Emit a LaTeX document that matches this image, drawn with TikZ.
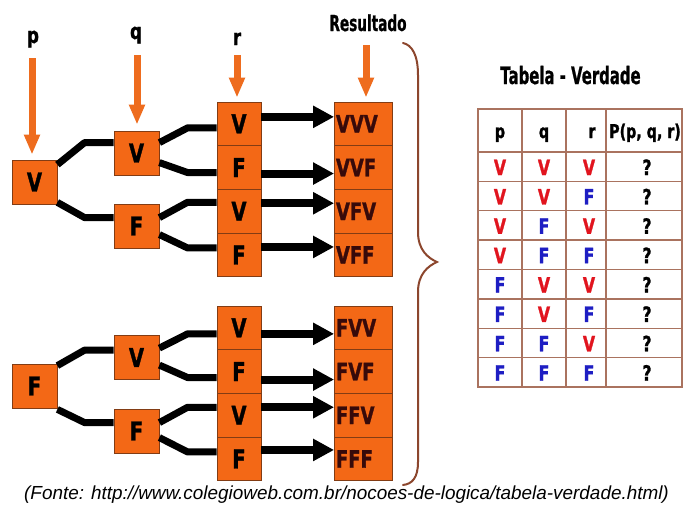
\documentclass[tikz,border=0pt]{standalone}
\usepackage{fontspec}
\setmainfont{DejaVu Sans}
\newfontfamily\boxfont{DejaVu Sans}[FakeStretch=0.75, BoldFeatures={FakeBold=1.2}]
\newfontfamily\titlefont{DejaVu Sans}[FakeStretch=0.62, BoldFeatures={FakeBold=0.8}]
\newfontfamily\sourcefont{Liberation Sans}
\usetikzlibrary{arrows.meta,calc}

\definecolor{boxorange}{RGB}{243,104,22}
\definecolor{arroworange}{RGB}{238,108,30}
\definecolor{boxedge}{RGB}{130,60,20}
\definecolor{bracebrown}{RGB}{140,70,45}
\definecolor{gridbrown}{RGB}{170,115,95}
\definecolor{colV}{RGB}{225,20,30}
\definecolor{colF}{RGB}{30,30,195}
\definecolor{resultink}{RGB}{55,10,10}

\begin{document}
\begin{tikzpicture}[x=1pt,y=-1pt,
  cell/.style={draw=boxedge, line width=0.8pt, fill=boxorange, inner sep=0pt,
    font=\boxfont\bfseries\fontsize{26}{26}\selectfont},
  treebox/.style={cell, minimum width=45pt, minimum height=44pt},
  rcell/.style={cell, minimum width=44pt, minimum height=43.7pt},
  rescell/.style={cell, minimum width=58pt, minimum height=43.7pt, text width=55pt,
    align=left, inner xsep=1.5pt, text=resultink,
    font=\boxfont\bfseries\fontsize{24}{24}\selectfont},
  varlabel/.style={anchor=base, font=\boxfont\bfseries\fontsize{22}{22}\selectfont},
  titletext/.style={anchor=base, font=\titlefont\bfseries\fontsize{24}{24}\selectfont},
  link/.style={line width=7pt, line join=round},
  resarrow/.style={line width=8pt, -{Triangle[width=21pt,length=21pt]}},
  orangearrow/.style={draw=arroworange, line width=7pt, -{Triangle[width=15pt,length=20pt]}},
  brace/.style={draw=bracebrown, line width=2pt, line cap=round},
  gridline/.style={draw=gridbrown, line width=1.3pt},
  tabhead/.style={anchor=base, font=\boxfont\bfseries\fontsize{19}{19}\selectfont},
  tabval/.style={anchor=base, font=\boxfont\bfseries\fontsize{21}{21}\selectfont}
]
\fill[white] (0,0) rectangle (683,506);
\useasboundingbox (0,0) rectangle (683,506);

% variable labels and result heading
\node[varlabel] (plabel) at (33,43) {p};
\node[varlabel] (qlabel) at (136,39) {q};
\node[varlabel] (rlabel) at (237,45) {r};
\node[titletext, font=\titlefont\bfseries\fontsize{22}{22}\selectfont] (reslabel) at (368,31) {Resultado};

% tree boxes
\node[treebox] (root1) at (34.5,182) {V};
\node[treebox] (qv1) at (136.5,153) {V};
\node[treebox] (qf1) at (136.5,226) {F};
\node[treebox] (root2) at (34.5,386) {F};
\node[treebox] (qv2) at (136.5,357.5) {V};
\node[treebox] (qf2) at (136.5,431) {F};

% r column and result column
\foreach \i/\y/\v/\res in {1/123.85/V/VVV, 2/167.55/F/VVF, 3/211.25/V/VFV, 4/254.95/F/VFF,
                           5/327.85/V/FVV, 6/371.55/F/FVF, 7/415.25/V/FFV, 8/458.95/F/FFF} {
  \node[rcell] (r\i) at (239,\y) {\v};
  \node[rescell] (s\i) at (363.5,\y) {\res};
}

% orange arrows pointing at each column
\coordinate (pstart) at (32,58);
\coordinate (qstart) at (137,55);
\coordinate (rstart) at (237,55);
\coordinate (sstart) at (366,45);
\draw[orangearrow] (pstart) -- ($(pstart |- root1.north)+(0,-5)$);
\draw[orangearrow] (qstart) -- ($(qstart |- qv1.north)+(0,-6)$);
\draw[orangearrow] (rstart) -- ($(rstart |- r1.north)+(0,-4)$);
\draw[orangearrow] (sstart) -- ($(sstart |- s1.north)+(0,-4)$);

% branches, first half
\draw[link] ($(root1.north east)+(0,5)$) -- ($(qv1.north west)+(-29,12)$) -- ($(qv1.north west)+(0,12)$);
\draw[link] ($(root1.south east)+(0,-2)$) -- ($(qf1.north west)+(-29,14)$) -- ($(qf1.north west)+(0,14)$);
\draw[link] ($(qv1.north east)+(0,12)$) -- ($(r1.west)+(-29,4)$) -- ($(r1.west)+(0,4)$);
\draw[link] ($(qv1.north east)+(0,32)$) -- ($(r2.west)+(-29,5)$) -- ($(r2.west)+(0,5)$);
\draw[link] ($(qf1.north east)+(0,14)$) -- ($(r3.west)+(-29,-9)$) -- ($(r3.west)+(0,-9)$);
\draw[link] ($(qf1.north east)+(0,31)$) -- ($(r4.west)+(-29,-7)$) -- ($(r4.west)+(0,-7)$);

% branches, second half
\draw[link] ($(root2.north east)+(0,2)$) -- ($(qv2.north west)+(-29,15)$) -- ($(qv2.north west)+(0,15)$);
\draw[link] ($(root2.south east)+(0,1)$) -- ($(qf2.north west)+(-29,14)$) -- ($(qf2.north west)+(0,14)$);
\draw[link] ($(qv2.north east)+(0,13)$) -- ($(r5.west)+(-29,6)$) -- ($(r5.west)+(0,6)$);
\draw[link] ($(qv2.north east)+(0,30)$) -- ($(r6.west)+(-29,6)$) -- ($(r6.west)+(0,6)$);
\draw[link] ($(qf2.north east)+(0,14)$) -- ($(r7.west)+(-29,-8)$) -- ($(r7.west)+(0,-8)$);
\draw[link] ($(qf2.north east)+(0,29)$) -- ($(r8.west)+(-29,-7)$) -- ($(r8.west)+(0,-7)$);

% arrows into the results
\foreach \i/\d in {1/-7, 2/6, 3/-8, 4/-8, 5/6, 6/8, 7/-8, 8/-9} {
  \draw[resarrow] ($(r\i.east)+(0,\d)$) -- ($(s\i.west)+(0,\d)$);
}

% brace grouping all results
\draw[brace] (403,43) .. controls (412,45) and (418,55) .. (418,75) -- (418,232)
  .. controls (418,250) and (428,258) .. (437,262)
  .. controls (428,266) and (418,274) .. (418,292) -- (418,462)
  .. controls (418,478) and (412,484) .. (403,485);

% truth table
\node[titletext] (tabtitle) at (570.5,84) {Tabela - Verdade};
\draw[gridline] (478,109) rectangle (682,387);
\foreach \x in {522,566,606} \draw[gridline] (\x,109) -- (\x,387);
\draw[gridline] (478,152) -- (682,152);
\foreach \k in {1,...,7} \draw[gridline] (478,152+29.375*\k) -- (682,152+29.375*\k);

\node[tabhead] (hp) at (500,138) {p};
\node[tabhead] (hq) at (544,138) {q};
\node[tabhead] (hr) at (592,138) {r};
\node[tabhead] (hP) at (645,138) {P(p, q, r)};

\foreach \k/\a/\b/\c in {0/V/V/V, 1/V/V/F, 2/V/F/V, 3/V/F/F,
                         4/F/V/V, 5/F/V/F, 6/F/F/V, 7/F/F/F} {
  \pgfmathsetmacro{\yb}{175+29.375*\k}
  \node[tabval, text=col\a] (tp\k) at (500,\yb) {\a};
  \node[tabval, text=col\b] (tq\k) at (544,\yb) {\b};
  \node[tabval, text=col\c] (tr\k) at (589,\yb) {\c};
  \node[tabval] (tx\k) at (647,\yb) {?};
}

% source line
\node[anchor=base, font=\sourcefont\itshape\fontsize{18.9}{20}\selectfont] (source) at (346.5,499)
  {(Fonte: http://www.colegioweb.com.br/nocoes-de-logica/tabela-verdade.html)};
\end{tikzpicture}
\end{document}
